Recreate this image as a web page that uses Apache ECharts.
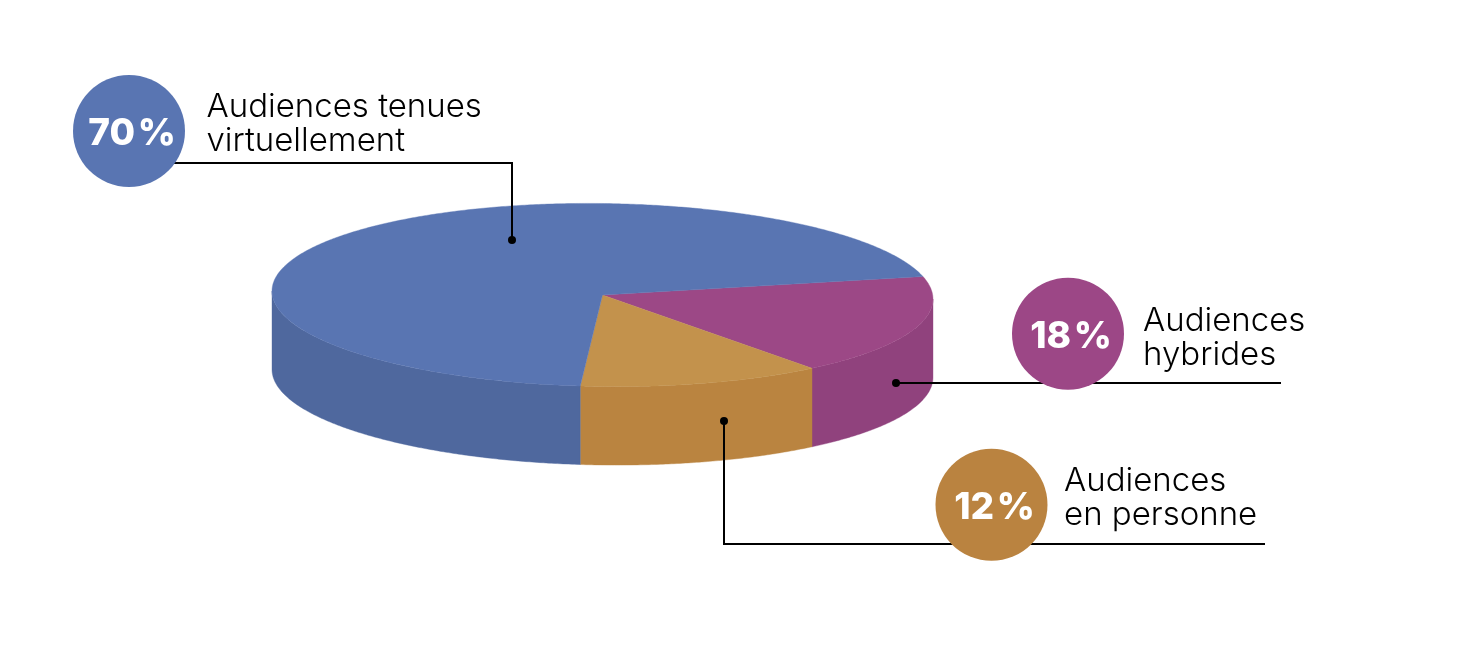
<!DOCTYPE html>
<html>
<head>
<meta charset="utf-8">
<style>html,body{margin:0;padding:0;background:#fff}#c{width:1472px;height:650px}</style>
<script src="https://cdn.jsdelivr.net/npm/echarts@6/dist/echarts.min.js"></script>
</head>
<body>
<div id="c"></div>
<script>
// Data
const categories = ['Audiences hybrides', 'Audiences en personne', 'Audiences tenues virtuellement'];
const shares = [18, 12, 70];
const nameLines = ['Audiences\nhybrides', 'Audiences\nen personne', 'Audiences tenues\nvirtuellement'];
const percentLabels = ['18\u200A%', '12\u200A%', '70\u200A%'];

// Styles
const topColors = ['#9C4886', '#C3924C', '#5975B2'];
const wallColors = ['#90427D', '#BA8440', '#4F689E'];
const badgeColors = ['#9C4786', '#BA8340', '#5975B2'];

// Layout of the tilted 3D disc, in axis units (the axes span the page)
const disc = { cx: 602.5, cy: 295, rx: 330.5, ry: 91.5, depth: 78.5, tiltDeg: 0.75, startDeg: -14.35 };
const badgeAt = [[1068, 333.7], [991.5, 504.8], [129, 131]];
const nameAt = [[1143, 338], [1064, 498], [206.5, 124]];
const leaders = [
  [[896, 383], [1281, 383]],
  [[724, 421], [724, 544], [1265, 544]],
  [[512, 240], [512, 163], [160, 163]]
];

const total = shares.reduce((a, b) => a + b, 0);
const tilt = disc.tiltDeg * Math.PI / 180;
function rim(t, drop) {
  const ex = disc.rx * Math.cos(t), ey = disc.ry * Math.sin(t);
  return [
    disc.cx + ex * Math.cos(tilt) - ey * Math.sin(tilt),
    disc.cy + ex * Math.sin(tilt) + ey * Math.cos(tilt) + (drop || 0)
  ];
}
function arc(a, b, drop) {
  const n = Math.max(2, Math.ceil(Math.abs(b - a) / (Math.PI / 360)));
  const out = [];
  for (let i = 0; i <= n; i++) out.push(rim(a + (b - a) * i / n, drop));
  return out;
}
// Rim parameter where the silhouette of the tilted ellipse turns
const t0 = Math.atan(-(disc.ry / disc.rx) * Math.tan(tilt));

function renderSlice(params, api) {
  const i = params.dataIndex;
  const before = shares.slice(0, i).reduce((a, b) => a + b, 0);
  const s0 = disc.startDeg * Math.PI / 180;
  const a0 = s0 + before / total * 2 * Math.PI;
  const a1 = a0 + api.value(0) / total * 2 * Math.PI;
  const toPx = p => api.coord(p);
  const children = [];
  const v0 = Math.max(a0, t0), v1 = Math.min(a1, t0 + Math.PI);
  if (v1 > v0) {
    const pts = arc(v0, v1, 0).concat(arc(v1, v0, disc.depth)).map(toPx);
    children.push({
      type: 'polygon', shape: { points: pts },
      style: { fill: wallColors[i], stroke: wallColors[i], lineWidth: 0.4 }
    });
  }
  const topPts = [[disc.cx, disc.cy]].concat(arc(a0, a1, 0)).map(toPx);
  children.push({
    type: 'polygon', shape: { points: topPts },
    style: { fill: topColors[i], stroke: topColors[i], lineWidth: 0.4 }
  });
  return { type: 'group', children };
}

const chart = echarts.init(document.getElementById('c'), null, { renderer: 'canvas' });
const series = [{
  type: 'custom', name: 'disc', z: 1, silent: true,
  coordinateSystem: 'cartesian2d',
  renderItem: renderSlice,
  encode: { x: [], y: [] },
  data: shares.map((v, i) => ({ name: categories[i], value: [v] }))
}];
leaders.forEach((pts, i) => {
  series.push({
    type: 'line', z: 2, silent: true, symbol: 'none', data: pts,
    lineStyle: { color: '#000', width: 2, cap: 'butt', join: 'miter' }
  });
});
series.push({
  type: 'scatter', z: 3, silent: true, symbol: 'circle', symbolSize: 8,
  itemStyle: { color: '#000', opacity: 1 },
  data: leaders.map(l => l[0])
});
series.push({
  type: 'scatter', z: 4, silent: true, symbol: 'circle', symbolSize: 112,
  data: badgeAt.map((p, i) => ({
    value: p,
    itemStyle: { color: badgeColors[i], opacity: 1 },
    label: {
      show: true, position: 'inside', offset: [3, 3], formatter: percentLabels[i],
      color: '#fff', fontFamily: 'Inter', fontWeight: 800, fontSize: 37
    }
  }))
});
series.push({
  type: 'scatter', z: 5, silent: true, symbolSize: 0,
  itemStyle: { opacity: 1 },
  data: nameAt.map((p, i) => ({
    value: p,
    label: {
      show: true, position: 'right', distance: 0, formatter: nameLines[i],
      color: '#000', fontFamily: 'Inter', fontWeight: 300, fontSize: 33, lineHeight: 34, align: 'left'
    }
  }))
});
chart.setOption({
  animation: false,
  backgroundColor: '#fff',
  grid: { left: 0, right: 0, top: 0, bottom: 0 },
  xAxis: { type: 'value', min: 0, max: 1472, show: false },
  yAxis: { type: 'value', min: 0, max: 650, inverse: true, show: false },
  series
});
</script>
</body>
</html>
